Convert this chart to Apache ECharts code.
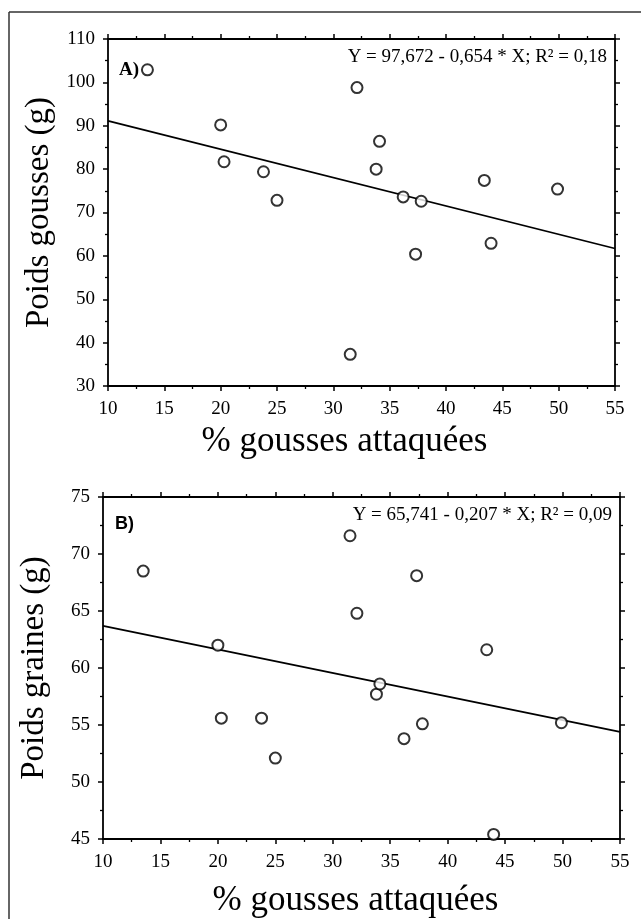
<!DOCTYPE html>
<html>
<head>
<meta charset="utf-8">
<script src="https://cdn.jsdelivr.net/npm/echarts@6/dist/echarts.min.js"></script>
<style>
  html, body { margin: 0; padding: 0; background: #fff; }
  #chart { width: 641px; height: 919px; }
</style>
</head>
<body>
<div id="chart"></div>
<script>
// % gousses attaquées (same 15 plots in both panels)
const pctAttaquees = [13.5, 20.0, 20.3, 23.8, 25.0, 31.5, 32.1, 33.8, 34.1, 36.2, 37.3, 37.8, 43.4, 44.0, 49.9]
// A) poids gousses (g)
const poidsGousses = [102.9, 90.2, 81.7, 79.4, 72.8, 37.3, 98.8, 80.0, 86.4, 73.6, 60.4, 72.6, 77.4, 62.9, 75.4]
// B) poids graines (g)
const poidsGraines = [68.5, 62.0, 55.6, 55.6, 52.1, 71.6, 64.8, 57.7, 58.6, 53.8, 68.1, 55.1, 61.6, 45.4, 55.2]
// droites de régression (extrémités)
const droiteA = [[10, 91.1], [55, 61.7]]
const droiteB = [[10, 63.7], [55, 54.4]]
const equationA = "Y = 97,672 - 0,654 * X; R² = 0,18"
const equationB = "Y = 65,741 - 0,207 * X; R² = 0,09"

const serif = '"Liberation Serif", "DejaVu Serif", serif'
const chart = echarts.init(document.getElementById("chart"))

const toPairs = (xs, ys) => xs.map((x, i) => [x, ys[i]])

// axe de base, réutilisé pour les quatre côtés
const baseAxis = (extra) => ({
  type: "value",
  axisLine: { show: true, onZero: false, lineStyle: { color: "#000", width: 1.8 } },
  axisTick: { show: true, inside: false, length: 5, lineStyle: { color: "#000", width: 1.5 } },
  minorTick: { show: true, splitNumber: 2, length: 3, lineStyle: { color: "#000", width: 1.3 } },
  splitLine: { show: false },
  axisLabel: { color: "#000", fontFamily: serif, fontSize: 19 },
  ...extra,
})

// shift = décalage vers la gauche du titre (padding à droite)
const xMain = (grid, gap, shift) => baseAxis({
  gridIndex: grid, position: "bottom", min: 10, max: 55, interval: 5,
  name: "% gousses attaquées", nameLocation: "middle", nameGap: gap,
  nameTextStyle: { color: "#000", fontFamily: serif, fontSize: 35, padding: [0, shift * 2, 0, 0] },
  axisLabel: { color: "#000", fontFamily: serif, fontSize: 19, margin: 14 },
})
const xTop = (grid) => baseAxis({
  gridIndex: grid, position: "top", min: 10, max: 55, interval: 5,
  axisLabel: { show: false },
})
const yMain = (grid, min, max, interval, name) => baseAxis({
  gridIndex: grid, position: "left", min, max, interval,
  name, nameLocation: "middle", nameGap: 52,
  nameTextStyle: { color: "#000", fontFamily: serif, fontSize: 33 },
  axisLabel: { color: "#000", fontFamily: serif, fontSize: 19, margin: 13 },
})
const yRight = (grid, min, max, interval) => baseAxis({
  gridIndex: grid, position: "right", min, max, interval,
  axisLabel: { show: false },
})

const pointStyle = {
  type: "scatter", symbol: "circle", symbolSize: 11,
  itemStyle: { color: "#fff", borderColor: "#000", borderWidth: 2 },
  z: 3,
}
const lineStyle = {
  type: "line", symbol: "none", lineStyle: { color: "#000", width: 1.8 }, z: 2,
}

const option = {
  animation: false,
  backgroundColor: "#fff",
  grid: [
    { left: 108, top: 39, right: 26, height: 347 },
    { left: 103, top: 497, right: 21, height: 345 },
  ],
  xAxis: [xMain(0, 38, 17), xTop(0), xMain(1, 44, 6), xTop(1)],
  yAxis: [
    yMain(0, 30, 110, 10, "Poids gousses (g)"),
    yRight(0, 30, 110, 10),
    yMain(1, 45, 75, 5, "Poids graines (g)"),
    yRight(1, 45, 75, 5),
  ],
  series: [
    { ...lineStyle, xAxisIndex: 0, yAxisIndex: 0, data: droiteA },
    { ...pointStyle, xAxisIndex: 0, yAxisIndex: 0, data: toPairs(pctAttaquees, poidsGousses) },
    { ...lineStyle, xAxisIndex: 2, yAxisIndex: 2, data: droiteB },
    { ...pointStyle, xAxisIndex: 2, yAxisIndex: 2, data: toPairs(pctAttaquees, poidsGraines) },
  ],
  graphic: [
    // cadre de la figure (haut et gauche)
    { type: "line", shape: { x1: 9, y1: 12, x2: 641, y2: 12 }, style: { stroke: "#333", lineWidth: 1.5 } },
    { type: "line", shape: { x1: 9, y1: 12, x2: 9, y2: 919 }, style: { stroke: "#333", lineWidth: 1.5 } },
    {
      type: "text", x: 119, y: 70,
      style: { text: "A)", fill: "#000", font: 'bold 19px "Liberation Serif"', textVerticalAlign: "middle" },
    },
    {
      type: "text", x: 607, y: 57,
      style: { text: equationA, fill: "#000", font: '19px "Liberation Serif"', textAlign: "right", textVerticalAlign: "middle" },
    },
    {
      type: "text", x: 115, y: 524,
      style: { text: "B)", fill: "#000", font: 'bold 18px "Liberation Sans"', textVerticalAlign: "middle" },
    },
    {
      type: "text", x: 612, y: 515,
      style: { text: equationB, fill: "#000", font: '19px "Liberation Serif"', textAlign: "right", textVerticalAlign: "middle" },
    },
  ],
}

chart.setOption(option)
window.addEventListener("resize", () => chart.resize())
</script>
</body>
</html>
